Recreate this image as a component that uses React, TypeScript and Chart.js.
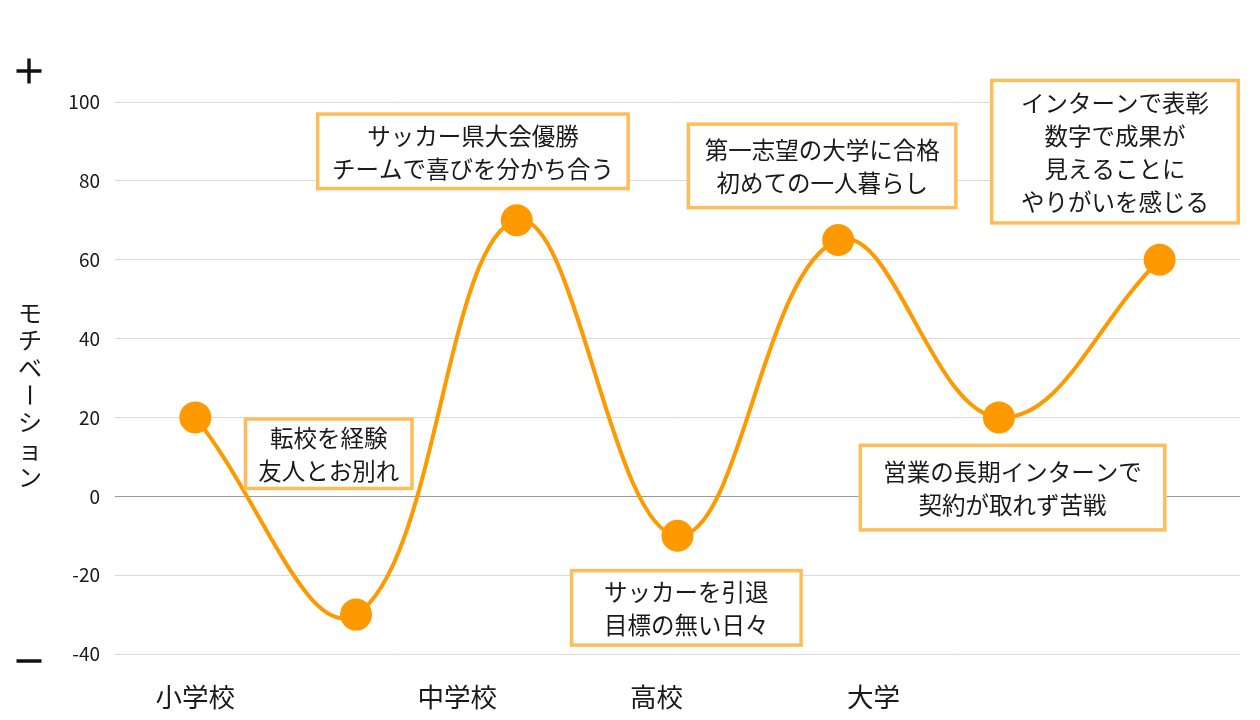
import React, { useEffect, useRef } from 'react';
import { Chart, registerables } from 'chart.js';

Chart.register(...registerables);

// ---- data ----
const stages = ['p1', 'p2', 'p3', 'p4', 'p5', 'p6', 'p7'];
const motivation = [20, -30, 70, -10, 65, 20, 60];
const yMin = -40;
const yMax = 100;
const yStep = 20;
const xTickLabels = ['小学校', '中学校', '高校', '大学'];
const xTickPositions = [0, 1.63, 2.87, 4.22];
const yTitle = 'モチベーション';

const noteTexts = [
  ['転校を経験', '友人とお別れ'],
  ['サッカー県大会優勝', 'チームで喜びを分かち合う'],
  ['サッカーを引退', '目標の無い日々'],
  ['第一志望の大学に合格', '初めての一人暮らし'],
  ['営業の長期インターンで', '契約が取れず苦戦'],
  ['インターンで表彰', '数字で成果が', '見えることに', 'やりがいを感じる'],
];
// anchor of each note box centre, in chart units (category index, motivation value)
const noteX = [0.83, 1.727, 3.055, 3.9, 5.085, 5.722];
const noteY = [10.8, 87.5, -28.3, 83.8, 2.2, 87.4];

// ---- styles ----
const FONT = '"Noto Sans CJK JP", "Noto Sans", sans-serif';
const LINE_COLOR = '#FF9900';
const BOX_BORDER = '#FFBD59';
const TEXT_COLOR = '#1a1a1a';
const noteW = [170, 314, 233, 271, 308, 250];
const noteH = [73, 78, 78, 87, 88, 146];

const overlayPlugin = {
  id: 'overlay',
  afterDatasetsDraw(chart: any) {
    const { ctx, scales } = chart;
    const xs = scales.x;
    const ys = scales.y;
    ctx.save();
    noteTexts.forEach((lines, i) => {
      const cx = xs.getPixelForValue(noteX[i]);
      const cy = ys.getPixelForValue(noteY[i]);
      const w = noteW[i];
      const h = noteH[i];
      ctx.fillStyle = '#ffffff';
      ctx.fillRect(cx - w / 2, cy - h / 2, w, h);
      ctx.strokeStyle = BOX_BORDER;
      ctx.lineWidth = 3.5;
      ctx.strokeRect(cx - w / 2 + 1.75, cy - h / 2 + 1.75, w - 3.5, h - 3.5);
      ctx.fillStyle = TEXT_COLOR;
      ctx.font = `23.5px ${FONT}`;
      ctx.textAlign = 'center';
      ctx.textBaseline = 'middle';
      const lh = 33;
      const start = cy - ((lines.length - 1) * lh) / 2 + 1;
      lines.forEach((t, j) => {
        ctx.fillText(t, cx, start + j * lh);
      });
    });
    ctx.restore();
  },
  afterDraw(chart: any) {
    const { ctx, scales } = chart;
    const xs = scales.x;
    ctx.save();
    ctx.fillStyle = TEXT_COLOR;
    ctx.textAlign = 'center';
    ctx.textBaseline = 'middle';
    ctx.font = `26.5px ${FONT}`;
    xTickLabels.forEach((t, i) => {
      ctx.fillText(t, xs.getPixelForValue(xTickPositions[i]), 697);
    });
    // plus / minus markers
    ctx.strokeStyle = '#111111';
    ctx.lineWidth = 3.4;
    ctx.beginPath();
    ctx.moveTo(16.5, 71);
    ctx.lineTo(41.5, 71);
    ctx.moveTo(29, 58.5);
    ctx.lineTo(29, 83.5);
    ctx.moveTo(16.5, 661);
    ctx.lineTo(41.5, 661);
    ctx.stroke();
    // vertical axis title
    ctx.font = `24px ${FONT}`;
    const chars = Array.from(yTitle);
    chars.forEach((c, i) => {
      const y = 313 + i * 27.3;
      if (c === 'ー') {
        ctx.save();
        ctx.translate(30, y);
        ctx.rotate(Math.PI / 2);
        ctx.fillText(c, 0, 0);
        ctx.restore();
      } else {
        ctx.fillText(c, 30, y);
      }
    });
    ctx.restore();
  },
};

export default function App() {
  const ref = useRef<HTMLCanvasElement>(null);
  useEffect(() => {
    const canvas = ref.current;
    if (!canvas) return;
    const chart = new Chart(canvas, {
      type: 'line',
      data: {
        labels: stages,
        datasets: [
          {
            data: motivation,
            borderColor: LINE_COLOR,
            backgroundColor: LINE_COLOR,
            borderWidth: 4,
            tension: 0.4,
            pointRadius: 16,
            pointHoverRadius: 16,
            pointBorderWidth: 0,
            pointBackgroundColor: LINE_COLOR,
            clip: false as any,
          },
        ],
      },
      options: {
        responsive: false,
        animation: false,
        layout: { padding: { left: 0, top: 102, right: 20, bottom: 66 } },
        plugins: {
          legend: { display: false },
          tooltip: { enabled: false },
        },
        scales: {
          x: {
            type: 'category',
            offset: true,
            display: false,
          },
          y: {
            min: yMin,
            max: yMax,
            afterFit: (scale: any) => {
              scale.width = 115;
            },
            ticks: {
              stepSize: yStep,
              padding: 15,
              color: TEXT_COLOR,
              font: { family: FONT, size: 19 },
            },
            border: { display: false },
            grid: {
              drawTicks: false,
              lineWidth: 1,
              color: (c: any) => (c.tick && c.tick.value === 0 ? '#9a9a9a' : '#d9d9d9'),
            },
          },
        },
      },
      plugins: [overlayPlugin],
    });
    return () => chart.destroy();
  }, []);
  return (
    <div style={{ position: 'fixed', left: 0, top: 0, width: 1260, height: 720, background: '#fff' }}>
      <canvas ref={ref} width={1260} height={720} />
    </div>
  );
}
